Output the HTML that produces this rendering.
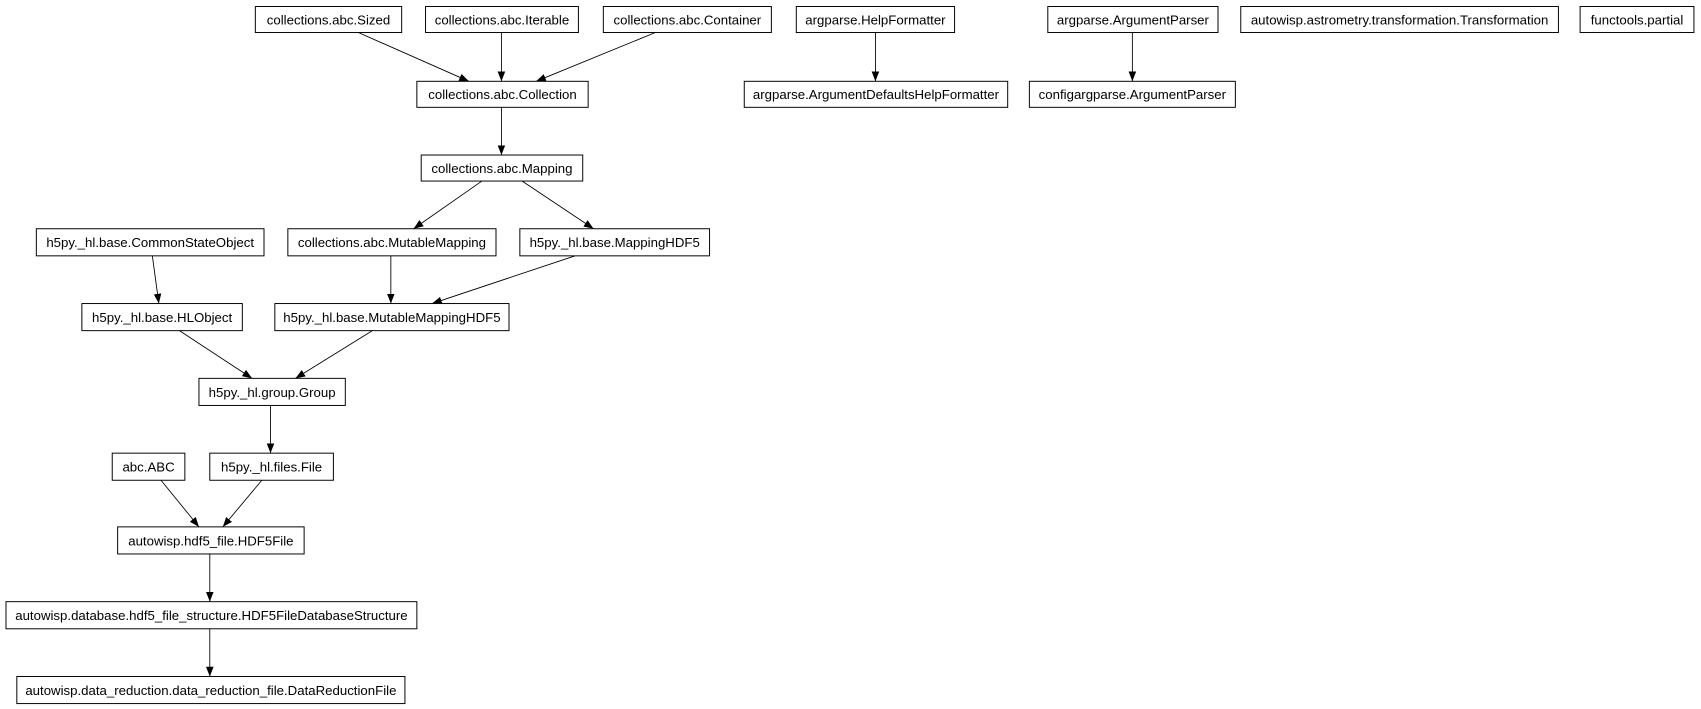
<!DOCTYPE html>
<html><head><meta charset="utf-8"><style>
html,body{margin:0;padding:0;background:#fff;}
svg{display:block;}
text{font-family:"Liberation Sans",Arial,sans-serif;font-size:12.2px;fill:#000;}
rect{fill:#fff;stroke:#000;stroke-width:0.9;}
line{stroke:#000;stroke-width:0.8;}
</style></head><body>
<svg width="1701" height="709" viewBox="0 0 1568 654" xmlns="http://www.w3.org/2000/svg">
<defs><marker id="a" markerWidth="10" markerHeight="8" refX="9" refY="4" orient="auto" markerUnits="userSpaceOnUse"><path d="M0,0.5 L9,4 L0,7.5z" fill="#000"/></marker></defs>
<g>
<line x1="330" y1="30" x2="432" y2="75" marker-end="url(#a)"/>
<line x1="462" y1="30" x2="462" y2="75" marker-end="url(#a)"/>
<line x1="604" y1="30" x2="494" y2="75" marker-end="url(#a)"/>
<line x1="462" y1="99" x2="462" y2="143" marker-end="url(#a)"/>
<line x1="444" y1="167" x2="381" y2="211" marker-end="url(#a)"/>
<line x1="481" y1="167" x2="547" y2="211" marker-end="url(#a)"/>
<line x1="140" y1="236" x2="146" y2="280" marker-end="url(#a)"/>
<line x1="360" y1="236" x2="360" y2="280" marker-end="url(#a)"/>
<line x1="530" y1="236" x2="398" y2="280" marker-end="url(#a)"/>
<line x1="165" y1="305" x2="232" y2="349" marker-end="url(#a)"/>
<line x1="343" y1="305" x2="272" y2="349" marker-end="url(#a)"/>
<line x1="249" y1="374" x2="249" y2="418" marker-end="url(#a)"/>
<line x1="148" y1="443" x2="183" y2="486" marker-end="url(#a)"/>
<line x1="241" y1="443" x2="205" y2="486" marker-end="url(#a)"/>
<line x1="193" y1="511" x2="193" y2="555" marker-end="url(#a)"/>
<line x1="193" y1="580" x2="193" y2="624" marker-end="url(#a)"/>
<line x1="807" y1="30" x2="807" y2="75" marker-end="url(#a)"/>
<line x1="1044" y1="30" x2="1044" y2="75" marker-end="url(#a)"/>
</g>
<g text-anchor="middle">
<rect x="235" y="6" width="135" height="24"/><text x="302.5" y="22.5">collections.abc.Sized</text>
<rect x="392" y="6" width="141" height="24"/><text x="462.5" y="22.5">collections.abc.Iterable</text>
<rect x="556" y="6" width="155" height="24"/><text x="633.5" y="22.5">collections.abc.Container</text>
<rect x="734" y="6" width="146" height="24"/><text x="807" y="22.5">argparse.HelpFormatter</text>
<rect x="966" y="6" width="157" height="24"/><text x="1044.5" y="22.5">argparse.ArgumentParser</text>
<rect x="1144" y="6" width="293" height="24"/><text x="1290.5" y="22.5">autowisp.astrometry.transformation.Transformation</text>
<rect x="1457" y="6" width="105" height="24"/><text x="1509.5" y="22.5">functools.partial</text>
<rect x="384" y="75" width="158" height="24"/><text x="463" y="91.5">collections.abc.Collection</text>
<rect x="686" y="75" width="243" height="24"/><text x="807.5" y="91.5">argparse.ArgumentDefaultsHelpFormatter</text>
<rect x="949" y="75" width="190" height="24"/><text x="1044" y="91.5">configargparse.ArgumentParser</text>
<rect x="388" y="143" width="149" height="24"/><text x="462.5" y="159.5">collections.abc.Mapping</text>
<rect x="33" y="211" width="210" height="25"/><text x="138" y="228">h5py._hl.base.CommonStateObject</text>
<rect x="265" y="211" width="192" height="25"/><text x="361" y="228">collections.abc.MutableMapping</text>
<rect x="479" y="211" width="175" height="25"/><text x="566.5" y="228">h5py._hl.base.MappingHDF5</text>
<rect x="75" y="280" width="148" height="25"/><text x="149" y="297">h5py._hl.base.HLObject</text>
<rect x="253" y="280" width="216" height="25"/><text x="361" y="297">h5py._hl.base.MutableMappingHDF5</text>
<rect x="183" y="349" width="135" height="25"/><text x="250.5" y="366">h5py._hl.group.Group</text>
<rect x="103" y="418" width="67" height="25"/><text x="136.5" y="435">abc.ABC</text>
<rect x="193" y="418" width="114" height="25"/><text x="250" y="435">h5py._hl.files.File</text>
<rect x="108" y="486" width="172" height="25"/><text x="194" y="503">autowisp.hdf5_file.HDF5File</text>
<rect x="5" y="555" width="379" height="25"/><text x="194.5" y="572">autowisp.database.hdf5_file_structure.HDF5FileDatabaseStructure</text>
<rect x="15" y="624" width="358" height="25"/><text x="194" y="641">autowisp.data_reduction.data_reduction_file.DataReductionFile</text>
</g>
</svg>
</body></html>
